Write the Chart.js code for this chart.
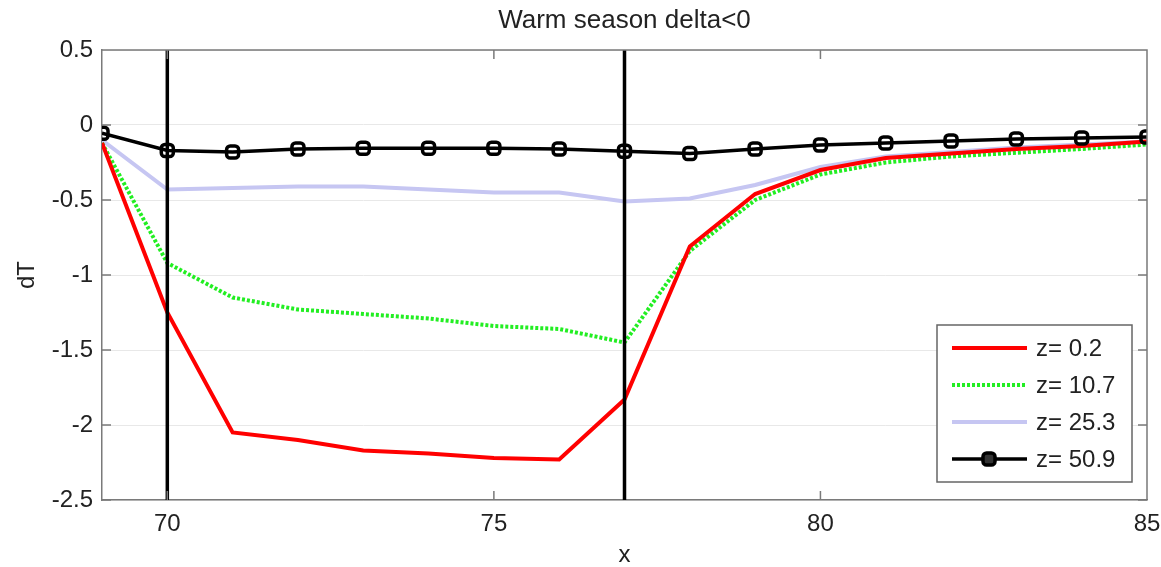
<!DOCTYPE html>
<html>
<head>
<meta charset="utf-8">
<script src="https://cdn.jsdelivr.net/npm/chart.js@4/dist/chart.umd.min.js"></script>
<style>
  html, body { margin: 0; padding: 0; background: #fff; }
  canvas { display: block; }
</style>
</head>
<body>
<canvas id="warmChart" width="1161" height="567"></canvas>
<script>
// data
const xValues = [69, 70, 71, 72, 73, 74, 75, 76, 77, 78, 79, 80, 81, 82, 83, 84, 85];
const z02  = [-0.12, -1.25, -2.05, -2.10, -2.17, -2.19, -2.22, -2.23, -1.83, -0.81, -0.46, -0.30, -0.22, -0.19, -0.16, -0.14, -0.11];
const z107 = [-0.12, -0.92, -1.15, -1.23, -1.26, -1.29, -1.34, -1.36, -1.45, -0.84, -0.50, -0.33, -0.25, -0.21, -0.185, -0.16, -0.13];
const z253 = [-0.10, -0.43, -0.42, -0.41, -0.41, -0.43, -0.45, -0.45, -0.51, -0.49, -0.40, -0.28, -0.21, -0.18, -0.15, -0.13, -0.11];
const z509 = [-0.055, -0.17, -0.18, -0.16, -0.155, -0.155, -0.155, -0.16, -0.175, -0.19, -0.16, -0.133, -0.12, -0.107, -0.093, -0.087, -0.08];
const seriesLabels = ["z= 0.2", "z= 10.7", "z= 25.3", "z= 50.9"];
const markerLines = [70, 77];
const xTicks = [70, 75, 80, 85];
const yTicks = [0.5, 0, -0.5, -1, -1.5, -2, -2.5];

const FONT = "'Liberation Sans', Arial, sans-serif";

function pts(ys) {
    return xValues.map((x, i) => ({ x: x, y: ys[i] }));
}

const datasets = [
    {
        label: seriesLabels[3], data: pts(z509),
        borderColor: "#000", borderWidth: 3.5,
        pointStyle: "rectRounded", pointRadius: 7,
        pointBorderColor: "#000", pointBorderWidth: 3.5,
        pointBackgroundColor: "rgba(0,0,0,0)", order: 1
    },
    {
        label: seriesLabels[0], data: pts(z02),
        borderColor: "#ff0000", borderWidth: 4, pointRadius: 0, order: 2
    },
    {
        label: seriesLabels[1], data: pts(z107),
        borderColor: "#22ee22", borderWidth: 4, borderDash: [3, 2],
        pointRadius: 0, order: 3
    },
    {
        label: seriesLabels[2], data: pts(z253),
        borderColor: "#c6c6f2", borderWidth: 4, pointRadius: 0, order: 4
    }
];

markerLines.forEach(v => {
    datasets.push({
        label: "", data: [{ x: v, y: yTicks[yTicks.length - 1] }, { x: v, y: yTicks[0] }],
        borderColor: "#000", borderWidth: 3.5, pointRadius: 0, order: 0
    });
});

// frame, inward ticks, title and legend box like the original figure
const framePlugin = {
    id: "frame",
    afterDraw(chart) {
        const ctx = chart.ctx;
        const a = chart.chartArea;
        const xs = chart.scales.x, ys = chart.scales.y;
        ctx.save();
        ctx.strokeStyle = "#7a7a7a";
        ctx.lineWidth = 1.5;
        ctx.beginPath();
        ctx.moveTo(a.left, a.top); ctx.lineTo(a.right, a.top); ctx.lineTo(a.right, a.bottom);
        xTicks.forEach(v => {
            const p = xs.getPixelForValue(v);
            ctx.moveTo(p, a.bottom); ctx.lineTo(p, a.bottom - 9);
            ctx.moveTo(p, a.top); ctx.lineTo(p, a.top + 9);
        });
        yTicks.forEach(v => {
            const p = ys.getPixelForValue(v);
            ctx.moveTo(a.left, p); ctx.lineTo(a.left + 9, p);
            ctx.moveTo(a.right, p); ctx.lineTo(a.right - 9, p);
        });
        ctx.stroke();

        // title
        ctx.fillStyle = "#222";
        ctx.font = "26px " + FONT;
        ctx.textAlign = "center";
        ctx.textBaseline = "middle";
        ctx.fillText("Warm season delta<0", (a.left + a.right) / 2, 21);

        // legend
        const box = { left: 937, top: 325, w: 195, h: 157 };
        ctx.fillStyle = "#fff";
        ctx.fillRect(box.left, box.top, box.w, box.h);
        ctx.strokeStyle = "#666";
        ctx.lineWidth = 1.5;
        ctx.strokeRect(box.left, box.top, box.w, box.h);

        seriesLabels.forEach((lab, i) => {
            const ds = chart.data.datasets.find(d => d.label === lab);
            const y = box.top + 23 + i * 37;
            ctx.save();
            ctx.strokeStyle = ds.borderColor;
            ctx.lineWidth = ds.borderWidth;
            ctx.setLineDash(ds.borderDash || []);
            ctx.beginPath();
            ctx.moveTo(box.left + 15, y);
            ctx.lineTo(box.left + 90, y);
            ctx.stroke();
            ctx.restore();
            if (ds.pointRadius > 0) {
                ctx.fillStyle = "#333";
                Chart.helpers.drawPoint(ctx, {
                    pointStyle: ds.pointStyle, radius: ds.pointRadius,
                    borderWidth: ds.pointBorderWidth, rotation: 0
                }, box.left + 52, y);
                ctx.strokeStyle = ds.pointBorderColor;
                ctx.lineWidth = ds.pointBorderWidth;
                ctx.stroke();
            }
            ctx.fillStyle = "#222";
            ctx.font = "24px " + FONT;
            ctx.textAlign = "left";
            ctx.textBaseline = "middle";
            ctx.fillText(lab, box.left + 99, y + 1);
        });
        ctx.restore();
    }
};

new Chart(document.getElementById("warmChart"), {
    type: "line",
    data: { datasets: datasets },
    options: {
        responsive: false,
        animation: false,
        devicePixelRatio: 1,
        layout: { padding: { top: 50, right: 14, left: 0, bottom: 0 } },
        plugins: {
            legend: { display: false },
            tooltip: { enabled: false },
            title: { display: false }
        },
        scales: {
            x: {
                type: "linear", min: 69, max: 85,
                afterBuildTicks: s => { s.ticks = xTicks.map(v => ({ value: v })); },
                afterFit: s => { s.height = 67; s.paddingLeft = 0; s.paddingRight = 0; },
                grid: { display: false, drawTicks: false },
                border: { color: "#7a7a7a", width: 1.5 },
                ticks: { color: "#222", padding: 10, font: { family: FONT, size: 24 }, maxRotation: 0 },
                title: { display: true, text: "x", color: "#222", padding: { top: 0, bottom: 0 },
                         font: { family: FONT, size: 24, lineHeight: 1 } }
            },
            y: {
                type: "linear", min: -2.5, max: 0.5,
                afterBuildTicks: s => { s.ticks = yTicks.map(v => ({ value: v })); },
                afterFit: s => { s.width = 102; s.paddingTop = 0; s.paddingBottom = 0; },
                grid: { color: "#e8e8e8", lineWidth: 1, drawTicks: false },
                border: { color: "#7a7a7a", width: 1.5 },
                ticks: { color: "#222", padding: 9, font: { family: FONT, size: 24 },
                         callback: v => String(v) },
                title: { display: true, text: "dT", color: "#222", padding: { top: 15, bottom: 0 },
                         font: { family: FONT, size: 24, lineHeight: 1 } }
            }
        }
    },
    plugins: [framePlugin]
});
</script>
</body>
</html>
